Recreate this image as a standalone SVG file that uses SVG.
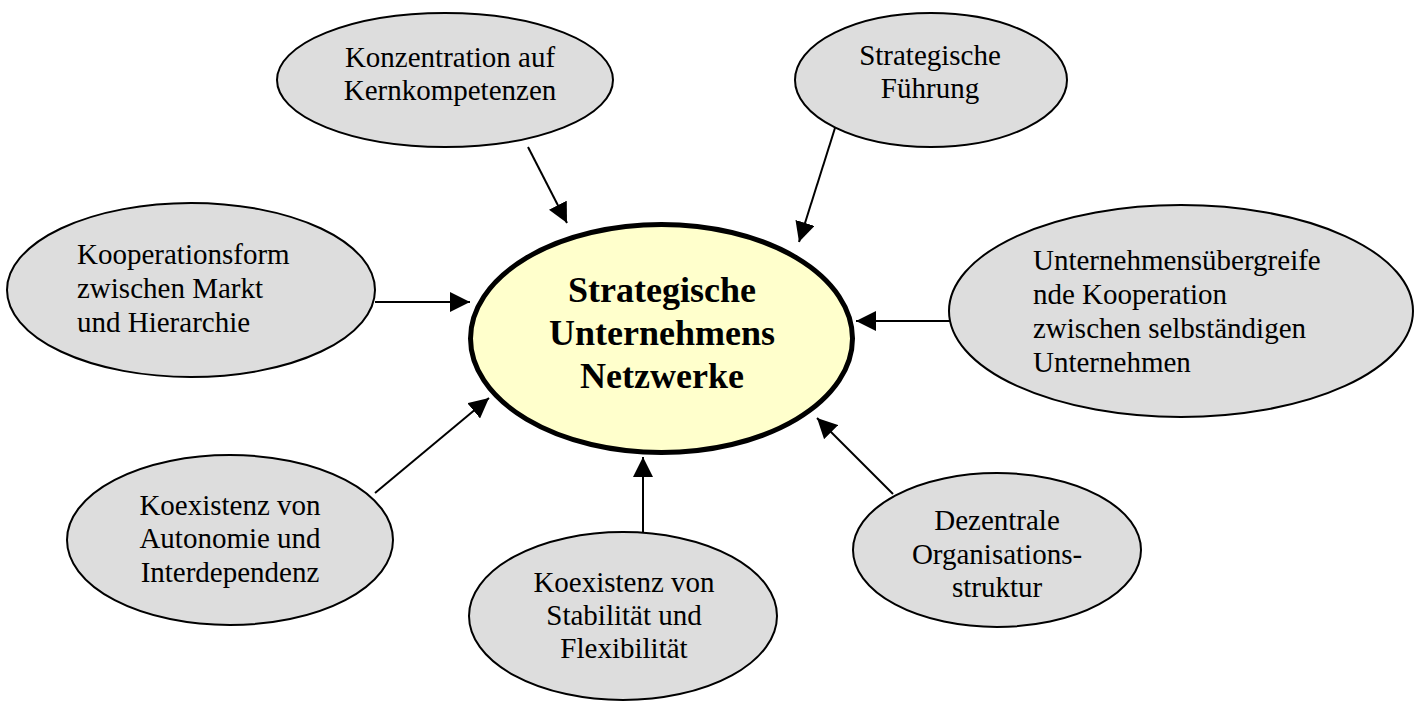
<svg xmlns="http://www.w3.org/2000/svg" width="1421" height="702" viewBox="0 0 1421 702">
  <style>
    .node ellipse { fill: #dddddd; stroke: #000; stroke-width: 2; }
    .hub ellipse { fill: #ffffcc; stroke: #000; stroke-width: 5; }
    .label { font-family: "Liberation Serif", "Times New Roman", serif; font-size: 29px; fill: #000; }
    .mid { text-anchor: middle; }
    .hub text { font-family: "Liberation Serif", "Times New Roman", serif; font-size: 36px; font-weight: bold; text-anchor: middle; fill: #000; }
    #connectors line { stroke: #000; stroke-width: 2; marker-end: url(#arrow); }
  </style>
  <defs>
    <marker id="arrow" markerUnits="userSpaceOnUse" markerWidth="20" markerHeight="20" refX="20" refY="10" orient="auto" viewBox="0 0 20 20">
      <path d="M0,0 L20,10 L0,20 z" fill="#000"/>
    </marker>
  </defs>

  <rect width="1421" height="702" fill="#ffffff"/>

  <!-- satellite concepts -->
  <g id="kernkompetenzen" class="node">
    <ellipse cx="445" cy="80" rx="168" ry="67"/>
    <text class="label mid" x="450" y="67">Konzentration auf</text>
    <text class="label mid" x="450" y="100">Kernkompetenzen</text>
  </g>

  <g id="fuehrung" class="node">
    <ellipse cx="931" cy="80" rx="136" ry="67"/>
    <text class="label mid" x="930" y="65">Strategische</text>
    <text class="label mid" x="930" y="98">Führung</text>
  </g>

  <g id="kooperationsform" class="node">
    <ellipse cx="191" cy="290" rx="184" ry="87"/>
    <text class="label" x="77" y="264">Kooperationsform</text>
    <text class="label" x="77" y="298">zwischen Markt</text>
    <text class="label" x="77" y="332">und Hierarchie</text>
  </g>

  <g id="kooperation" class="node">
    <ellipse cx="1181" cy="311" rx="232" ry="106"/>
    <text class="label" x="1033" y="270">Unternehmensübergreife</text>
    <text class="label" x="1033" y="304">nde Kooperation</text>
    <text class="label" x="1033" y="338">zwischen selbständigen</text>
    <text class="label" x="1033" y="372">Unternehmen</text>
  </g>

  <g id="autonomie" class="node">
    <ellipse cx="230" cy="540" rx="163" ry="85"/>
    <text class="label mid" x="230" y="515">Koexistenz von</text>
    <text class="label mid" x="230" y="548">Autonomie und</text>
    <text class="label mid" x="230" y="582">Interdependenz</text>
  </g>

  <g id="stabilitaet" class="node">
    <ellipse cx="623" cy="616" rx="154" ry="84"/>
    <text class="label mid" x="624" y="592">Koexistenz von</text>
    <text class="label mid" x="624" y="625">Stabilität und</text>
    <text class="label mid" x="624" y="658">Flexibilität</text>
  </g>

  <g id="dezentral" class="node">
    <ellipse cx="997" cy="550" rx="144" ry="77"/>
    <text class="label mid" x="997" y="530">Dezentrale</text>
    <text class="label mid" x="997" y="564">Organisations-</text>
    <text class="label mid" x="997" y="597">struktur</text>
  </g>

  <!-- central concept -->
  <g id="netzwerke" class="hub">
    <ellipse cx="661.5" cy="338.5" rx="191" ry="114"/>
    <text x="662" y="302">Strategische</text>
    <text x="662" y="345">Unternehmens</text>
    <text x="662" y="388">Netzwerke</text>
  </g>

  <!-- arrows pointing into the central concept -->
  <g id="connectors">
    <line x1="528" y1="147" x2="567" y2="223"/>
    <line x1="835" y1="128" x2="799" y2="242"/>
    <line x1="375" y1="302" x2="470" y2="302"/>
    <line x1="950" y1="321" x2="856" y2="321"/>
    <line x1="375" y1="493" x2="489" y2="398"/>
    <line x1="643" y1="532" x2="643" y2="457"/>
    <line x1="893" y1="494" x2="817" y2="418"/>
  </g>
</svg>
